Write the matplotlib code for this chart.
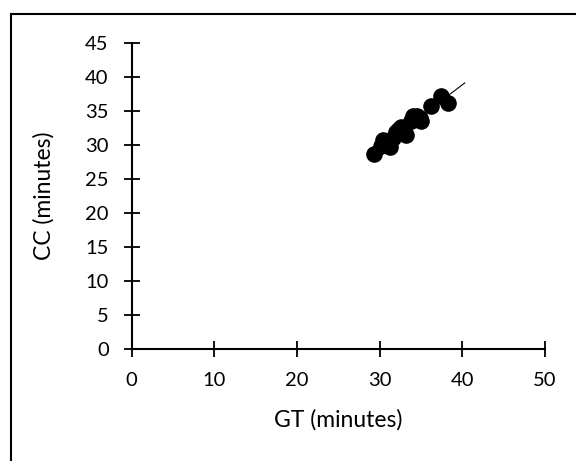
import numpy as np
import matplotlib
matplotlib.use("Agg")
import matplotlib.pyplot as plt
from matplotlib.patches import Rectangle

plt.rcParams['font.family'] = ['Lato', 'DejaVu Sans']

# GT vs CC durations (minutes)
gt = [29.3, 30.2, 30.4, 30.9, 31.2, 31.6, 32.0, 32.3, 32.6, 33.0,
      33.2, 33.8, 34.1, 34.5, 35.0, 34.9, 36.2, 37.4, 38.3]
cc = [28.6, 29.9, 30.7, 30.3, 29.7, 31.0, 31.9, 32.3, 32.6, 32.1,
      31.5, 33.5, 34.2, 34.3, 33.5, 34.0, 35.7, 37.2, 36.2]

x_ticks = [0, 10, 20, 30, 40, 50]
y_ticks = [0, 5, 10, 15, 20, 25, 30, 35, 40, 45]

fig = plt.figure(figsize=(5.76, 4.61), dpi=100)
ax = fig.add_axes([0.2286, 0.2423, 0.7174, 0.6651])

# chart area border
fig.patches.append(Rectangle((11 / 576, -0.1), 1.2, 1 - 13.5 / 461 + 0.1,
                             transform=fig.transFigure, fill=False,
                             edgecolor='black', linewidth=1.5))

ax.scatter(gt, cc, s=120, color='black', zorder=3)

# linear trendline
slope, icpt = np.polyfit(gt, cc, 1)
xs = np.array([min(gt), max(gt) + 2])
ax.plot(xs, slope * xs + icpt, color='black', linewidth=0.8, zorder=2)

ax.set_xlim(0, 50)
ax.set_ylim(0, 45)
ax.set_xticks(x_ticks)
ax.set_yticks(y_ticks)
ax.tick_params(direction='inout', length=11, width=1.3, labelsize=14.5)
ax.tick_params(axis='y', pad=11)
ax.tick_params(axis='x', pad=11)
for s in ['top', 'right']:
    ax.spines[s].set_visible(False)
for s in ['left', 'bottom']:
    ax.spines[s].set_linewidth(1.5)
ax.spines['left'].set_zorder(1)
ax.set_xlabel("GT (minutes)", fontsize=16.5, labelpad=14)
ax.set_ylabel("CC (minutes)", fontsize=16.5, labelpad=22)

fig.savefig("out.png", dpi=100)
